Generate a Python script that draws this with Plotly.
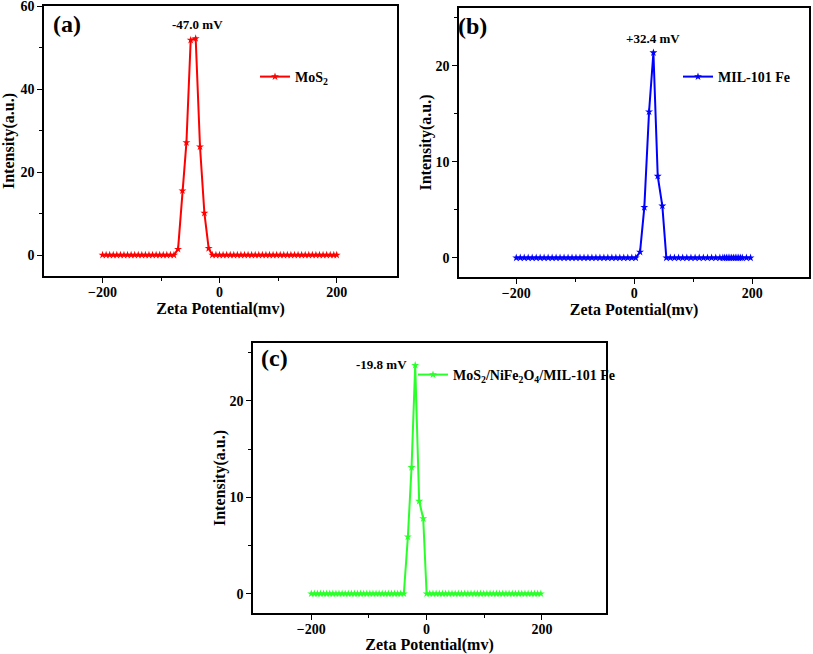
import plotly.graph_objects as go

# ---------------- data ----------------
# (a) MoS2
a_x_left = [-200, -193.9, -187.8, -181.7, -175.6, -169.5, -163.4, -157.3, -151.2, -145.1,
            -139, -132.9, -126.8, -120.7, -114.6, -108.5, -102.4, -96.3, -90.2, -84.1, -78]
a_x_peak = [-71, -63.5, -56.7, -49.4, -40.9, -33.5, -26, -18.7]
a_y_peak = [1.4, 15.5, 27.1, 51.8, 52.2, 26.1, 10.1, 1.6]
a_x_right = [-12.4, -6.3, -0.2, 5.9, 12, 18.1, 24.2, 30.3, 36.4, 42.5, 48.6, 54.7, 60.8,
             66.9, 73, 79.1, 85.2, 91.3, 97.4, 103.5, 109.6, 115.7, 121.8, 127.9, 134,
             140.1, 146.2, 152.3, 158.4, 164.5, 170.6, 176.7, 182.8, 188.9, 195, 200]

# (b) MIL-101 Fe
b_x_left = [-200, -193.2, -186.5, -179.8, -173, -166.2, -159.5, -152.8, -146, -139.2,
            -132.5, -125.8, -119, -112.2, -105.5, -98.8, -92, -85.2, -78.5, -71.8, -65,
            -58.2, -51.5, -44.8, -38, -31.2, -24.5, -17.8, -11, -4.2, 2.5]
b_x_peak = [9.7, 17, 25, 32.4, 39.7, 47.5]
b_y_peak = [0.6, 5.25, 15.2, 21.35, 8.5, 5.4]
b_x_right = [54.3, 61, 68, 75, 82, 89, 96, 103, 110, 117, 124, 131, 138, 145, 150, 153,
             156, 159, 162, 165, 168, 171, 174, 177, 180, 183, 190, 197]

# (c) MoS2/NiFe2O4/MIL-101 Fe
c_x_left = [-200, -194.6, -189.3, -184, -178.6, -173.3, -167.9, -162.6, -157.2, -151.9,
            -146.5, -141.2, -135.8, -130.5, -125.1, -119.8, -114.4, -109.1, -103.7, -98.4,
            -93, -87.7, -82.3, -77, -71.6, -66.3, -60.9, -55.6, -50.2, -44.9, -39.5]
c_x_peak = [-32.5, -26.1, -19.8, -12.9, -5.9]
c_y_peak = [5.9, 13.1, 23.7, 9.6, 7.8]
c_x_right = [0, 5.5, 11, 16.5, 22, 27.5, 33, 38.5, 44, 49.5, 55, 60.5, 66, 71.5, 77, 82.5,
             88, 93.5, 99, 104.5, 110, 115.5, 121, 126.5, 132, 137.5, 143, 148.5, 154,
             159.5, 165, 170.5, 176, 181.5, 187, 192.5, 198]

a_x = a_x_left + a_x_peak + a_x_right
a_y = [0] * len(a_x_left) + a_y_peak + [0] * len(a_x_right)
b_x = b_x_left + b_x_peak + b_x_right
b_y = [0] * len(b_x_left) + b_y_peak + [0] * len(b_x_right)
c_x = c_x_left + c_x_peak + c_x_right
c_y = [0] * len(c_x_left) + c_y_peak + [0] * len(c_x_right)

names = ["MoS<sub>2</sub>", "MIL-101 Fe", "MoS<sub>2</sub>/NiFe<sub>2</sub>O<sub>4</sub>/MIL-101 Fe"]
peak_labels = ["-47.0 mV", "+32.4 mV", "-19.8 mV"]
panel_labels = ["(a)", "(b)", "(c)"]
x_title = "Zeta Potential(mv)"
y_title = "Intensity(a.u.)"

# ---------------- layout helpers ----------------
W, H = 813, 654
def fx(p):
    return min(1.0, max(0.0, p / W))
def fy(p):
    return min(1.0, max(0.0, 1 - p / H))

FONT = "Liberation Serif"
colors = ["#ff0000", "#0000ff", "#2aff2a"]

fig = go.Figure()
series = [(a_x, a_y), (b_x, b_y), (c_x, c_y)]
axes = [("x", "y"), ("x2", "y2"), ("x3", "y3")]
legends = ["legend", "legend2", "legend3"]
for i, ((xs, ys), (xa, ya)) in enumerate(zip(series, axes)):
    fig.add_trace(go.Scatter(
        x=xs, y=ys, xaxis=xa, yaxis=ya, name=names[i], legend=legends[i],
        mode="lines+markers",
        line=dict(color=colors[i], width=2),
        marker=dict(symbol="star", size=6, color=colors[i]),
    ))

tickfont = dict(family=FONT, size=14, color="black", weight="bold")
titlefont = dict(family=FONT, size=16, color="black", weight="bold")

def xax(domain, anchor, rng):
    return dict(domain=domain, anchor=anchor, range=rng, tickvals=[-200, 0, 200],
                ticks="outside", ticklen=5, tickwidth=1.2, tickcolor="black",
                minor=dict(tickvals=[-100, 100], ticks="outside", ticklen=3, tickcolor="black"),
                showline=True, linecolor="black", linewidth=1.5, mirror=True,
                showgrid=False, zeroline=False, tickfont=tickfont,
                ticklabelstandoff=-3,
                title=dict(text=x_title, font=titlefont, standoff=2))

def yax(domain, anchor, rng, dtick, standoff):
    return dict(domain=domain, anchor=anchor, range=rng, dtick=dtick,
                ticks="outside", ticklen=5, tickwidth=1.2, tickcolor="black",
                minor=dict(dtick=dtick / 2, ticks="outside", ticklen=3, tickcolor="black"),
                showline=True, linecolor="black", linewidth=1.5, mirror=True,
                showgrid=False, zeroline=False, tickfont=tickfont,
                ticklabeloverflow="allow",
                title=dict(text=y_title, font=titlefont, standoff=standoff))

legend_common = dict(bgcolor="rgba(0,0,0,0)", borderwidth=0, itemwidth=30,
                     xanchor="left", yanchor="middle",
                     font=dict(family=FONT, size=14, color="black", weight="bold"))

fig.update_layout(
    width=W, height=H, autosize=False,
    margin=dict(l=0, r=0, t=0, b=0, autoexpand=False),
    paper_bgcolor="white", plot_bgcolor="white",
    xaxis=xax([fx(44), fx(397)], "y", [-300, 303]),
    yaxis=yax([fy(276), fy(6)], "x", [-5.06, 60.02], 20, 5),
    xaxis2=xax([fx(459), fx(809)], "y2", [-297, 296]),
    yaxis2=yax([fy(277), fy(8)], "x2", [-2, 26], 10, 0),
    xaxis3=xax([fx(253), fx(606)], "y3", [-301, 311]),
    yaxis3=yax([fy(613), fy(343)], "x3", [-2, 26], 10, 0),
    legend=dict(x=fx(255), y=fy(77), **legend_common),
    legend2=dict(x=fx(678), y=fy(77), **legend_common),
    legend3=dict(x=fx(413), y=fy(375), **legend_common),
    showlegend=True,
)

ann_font_big = dict(family=FONT, size=24, color="black", weight="bold")
ann_font = dict(family=FONT, size=13, color="black", weight="bold")
for (px, py), t in zip([(67, 24), (472, 26), (274, 358)], panel_labels):
    fig.add_annotation(x=fx(px), y=fy(py), xref="paper", yref="paper", text=t,
                       xanchor="center", yanchor="middle",
                       showarrow=False, font=ann_font_big)
for (px, py), t in zip([(197, 25), (653, 38), (381, 364)], peak_labels):
    fig.add_annotation(x=fx(px), y=fy(py), xref="paper", yref="paper", text=t,
                       xanchor="center", yanchor="middle",
                       showarrow=False, font=ann_font)

# remove the browser's default 8px body margin so the figure starts at the page corner
fig.write_html("out.html", config={"displayModeBar": False},
               post_script="document.body.style.margin='0px';")
